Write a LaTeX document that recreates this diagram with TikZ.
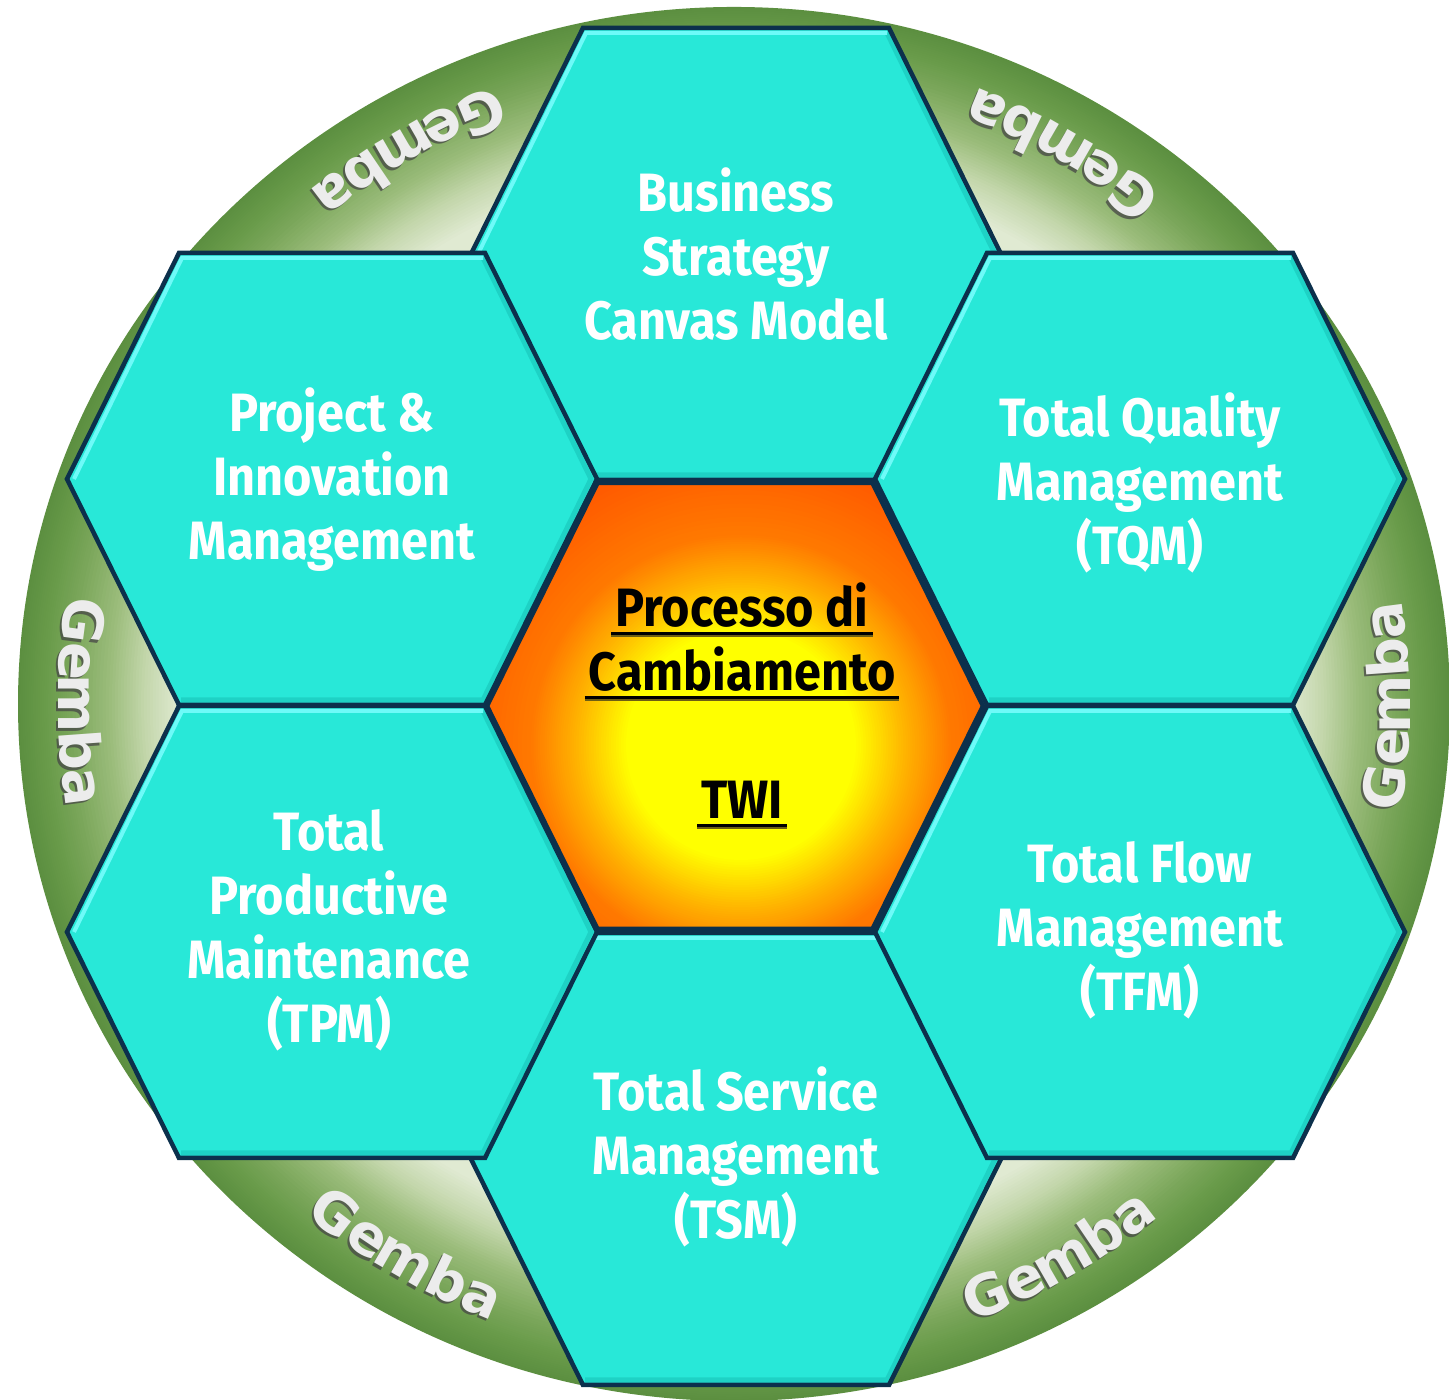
\documentclass[tikz,border=0pt]{standalone}
\usepackage{fontspec}
\newfontfamily\hexfont{Fira Sans}[FakeStretch=0.9]
\newfontfamily\gembafont{DejaVu Sans}

\definecolor{hexteal}{RGB}{40,232,216}
\definecolor{hexborder}{RGB}{12,48,76}
\definecolor{hexhi}{RGB}{110,250,248}
\definecolor{hexshade}{RGB}{20,185,175}
\definecolor{ringlight}{RGB}{224,234,210}
\definecolor{ringA}{RGB}{196,215,172}
\definecolor{ringB}{RGB}{156,189,124}
\definecolor{ringC}{RGB}{122,166,90}
\definecolor{ringD}{RGB}{105,155,74}
\definecolor{ringE}{RGB}{92,143,64}
\definecolor{gY}{RGB}{255,255,0}
\definecolor{gA}{RGB}{255,180,0}
\definecolor{gB}{RGB}{255,122,0}
\definecolor{gC}{RGB}{255,88,0}
\definecolor{gembatext}{RGB}{236,236,236}
\definecolor{gembashadow}{RGB}{70,70,70}
\definecolor{ulshadow}{RGB}{110,95,20}

\newcommand\hexpts[5]{({#1-#3},{#2}) -- ({#1-#4},{#2+#5}) -- ({#1+#4},{#2+#5}) -- ({#1+#3},{#2}) -- ({#1+#4},{#2-#5}) -- ({#1-#4},{#2-#5}) -- cycle}

\newcommand\tealhex[2]{%
  \fill[hexteal] \hexpts{#1}{#2}{265}{153}{226};
  \draw[hexshade, line width=5, opacity=.45] ({#1+151},{#2+221}) -- ({#1+259},{#2}) -- ({#1+151},{#2-221}) -- ({#1-151},{#2-221});
  \draw[hexhi, line width=4] ({#1-258},{#2}) -- ({#1-150},{#2+221}) -- ({#1+151},{#2+221});
  \draw[hexborder, line width=4.5] \hexpts{#1}{#2}{265}{153}{226};
}

\newcommand\twiul[1]{\leavevmode\setbox0\hbox{#1}\rlap{\color{ulshadow}\hspace{-4pt}\rule[-11pt]{\dimexpr\wd0+8pt\relax}{3pt}}\rlap{\hspace{-4pt}\rule[-9pt]{\dimexpr\wd0+8pt\relax}{3pt}}\box0}

\newcommand\gembaword[2]{%
  \foreach \ch/\off [count=\i] in {G/-86,e/-44,m/0,b/48,a/86} {
    \pgfmathsetmacro\ang{#1+\off/664*57.2958}
    \node[gembaletter, text=gembashadow, opacity=.75, rotate=\ang+90, name=gs#2\i] at ({734-2+676*cos(\ang)},{-704-2.5+660*sin(\ang)}) {\ch};
    \node[gembaletter, text=gembatext, rotate=\ang+90, name=g#2\i] at ({734+676*cos(\ang)},{-704+660*sin(\ang)}) {\ch};
  }%
}

\tikzset{
  hextext/.style={font=\hexfont\bfseries\fontsize{54}{64}\selectfont, text=white, align=center, inner sep=0pt},
  centretext/.style={font=\hexfont\bfseries\fontsize{54}{64}\selectfont, text=black, align=center, inner sep=0pt},
  gembaletter/.style={font=\gembafont\bfseries\fontsize{56}{60}\selectfont, anchor=base, inner sep=0pt}
}

\begin{document}
\begin{tikzpicture}[x=1pt,y=1pt]
\useasboundingbox (0,0) rectangle (1449,1400);
\fill[white] (0,0) rectangle (1449,1400);
\begin{scope}[shift={(0,1400)}]
  % green ring: concentric bands
  \foreach \ro/\ri/\co/\ci in {716/690/ringE/ringD, 690/665/ringD/ringC, 665/625/ringC/ringB, 625/590/ringB/ringA, 590/555/ringA/ringlight} {
    \foreach \k in {0,...,11} {
      \pgfmathsetmacro\rr{\ro-(\ro-\ri)*\k/12}
      \pgfmathsetmacro\mm{100-100*\k/12}
      \fill[\co!\mm!\ci] (734,-704) ellipse [x radius=\rr, y radius=\rr*0.9735];
    }
  }
  \fill[ringlight] (734,-704) ellipse [x radius=555, y radius=540];
  % Gemba texts
  \gembaword{0}{R}
  \gembaword{60}{TR}
  \gembaword{120}{TL}
  \gembaword{180}{L}
  \gembaword{240}{BL}
  \gembaword{300}{BR}
  % outer hexagons
  \tealhex{736}{-254}
  \tealhex{736}{-1159}
  \tealhex{332}{-479}
  \tealhex{1140}{-479}
  \tealhex{332}{-932}
  \tealhex{1140}{-932}
  % centre hexagon with glow
  \begin{scope}
    \clip \hexpts{735}{-706}{248}{137.5}{223};
    \fill[gC] (480,-480) rectangle (990,-935);
    \foreach \ro/\ri/\co/\ci in {300/210/gC/gB, 210/165/gB/gA, 165/115/gA/gY} {
      \foreach \k in {0,...,19} {
        \pgfmathsetmacro\rr{\ro-(\ro-\ri)*\k/20}
        \pgfmathsetmacro\mm{100-100*\k/20}
        \fill[\co!\mm!\ci] (741,-745) circle [radius=\rr];
      }
    }
    \fill[gY] (741,-745) circle [radius=115];
  \end{scope}
  \draw[hexborder, line width=4.5] \hexpts{735}{-706}{248}{137.5}{223};
  % texts
  \node[hextext] (bsc) at (736,-254) {Business\\Strategy\\Canvas Model};
  \node[hextext] (pim) at (332,-480) {Project \&\\Innovation\\Management};
  \node[hextext] (tqm) at (1140,-483) {Total Quality\\Management\\(TQM)};
  \node[hextext] (tpm) at (329,-930) {Total\\Productive\\Maintenance\\(TPM)};
  \node[hextext] (tfm) at (1140,-930) {Total Flow\\Management\\(TFM)};
  \node[hextext] (tsm) at (736,-1157) {Total Service\\Management\\(TSM)};
  \node[centretext] (twi) at (742,-706) {\twiul{Processo di}\\\twiul{Cambiamento}\\[64pt]\twiul{TWI}};
\end{scope}
\end{tikzpicture}
\end{document}
